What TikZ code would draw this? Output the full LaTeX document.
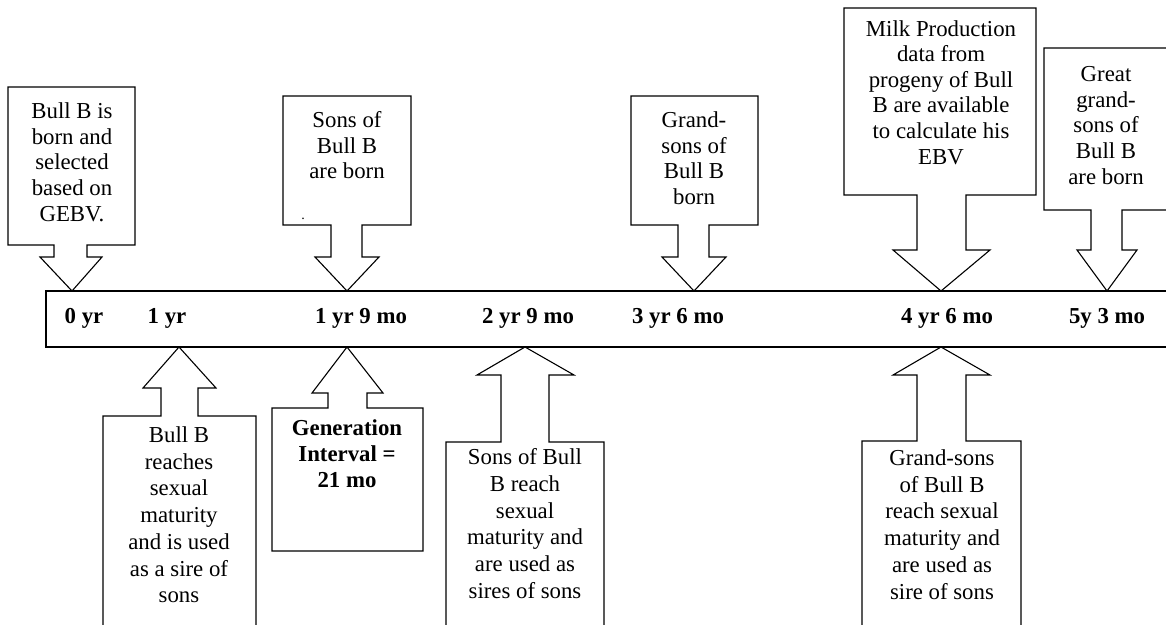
\documentclass[tikz,border=0pt]{standalone}
\usepackage{fontspec}
\setmainfont{Liberation Serif}
\begin{document}
\begin{tikzpicture}[x=1pt,y=-1pt,
  shape line/.style={draw=black,line width=1.1pt,line join=miter},
  toptxt/.style={align=center,inner sep=0pt,anchor=north,font=\fontsize{22.8}{25.6}\selectfont},
  bottxt/.style={align=center,inner sep=0pt,anchor=north,font=\fontsize{22.8}{26.7}\selectfont},
  boldtxt/.style={align=center,inner sep=0pt,anchor=north,font=\bfseries\fontsize{22.8}{26.3}\selectfont},
  barlabel/.style={inner sep=0pt,anchor=base,font=\bfseries\fontsize{22.8}{26}\selectfont}]
\useasboundingbox (0,0) rectangle (1166,624);
\clip (0,0) rectangle (1166,624);
\fill[white] (0,0) rectangle (1166,624);

% timeline bar
\draw[shape line] (1175,291) -- (46,291) -- (46,347) -- (1175,347);

% tip coordinates
\coordinate (t0) at (72,291);
\coordinate (t1) at (347,291);
\coordinate (t2) at (694,291);
\coordinate (t3) at (941,291);
\coordinate (t4) at (1107,291);
\coordinate (b0) at (179,347);
\coordinate (b1) at (347,347);
\coordinate (b2) at (525,347);
\coordinate (b3) at (941,347);

% top callouts (pointing down)
\draw[shape line] (8,87) -- (135,87) -- (135,245) -- (87,245) -- (87,257) -- (102,257) -- (t0) -- (40,257) -- (54,257) -- (54,245) -- (8,245) -- cycle;
\draw[shape line] (283,96) -- (411,96) -- (411,225) -- (362,225) -- (362,257) -- (379,257) -- (t1) -- (315,257) -- (331,257) -- (331,225) -- (283,225) -- cycle;
\draw[shape line] (631,96) -- (758,96) -- (758,225) -- (709,225) -- (709,257) -- (726,257) -- (t2) -- (662,257) -- (678,257) -- (678,225) -- (631,225) -- cycle;
\draw[shape line] (844,8) -- (1036,8) -- (1036,195) -- (966,195) -- (966,250) -- (990,250) -- (t3) -- (893,250) -- (917,250) -- (917,195) -- (844,195) -- cycle;
\draw[shape line] (1175,48) -- (1044,48) -- (1044,210) -- (1091,210) -- (1091,250) -- (1077,250) -- (t4) -- (1137,250) -- (1122,250) -- (1122,210) -- (1175,210);

% bottom callouts (pointing up)
\draw[shape line] (103,630) -- (103,416) -- (161,416) -- (161,388) -- (143,388) -- (b0) -- (216,388) -- (198,388) -- (198,416) -- (256,416) -- (256,630);
\draw[shape line] (272,551) -- (272,408) -- (328,408) -- (328,393) -- (312,393) -- (b1) -- (383,393) -- (367,393) -- (367,408) -- (423,408) -- (423,551) -- cycle;
\draw[shape line] (446,630) -- (446,442) -- (501,442) -- (501,375) -- (477,375) -- (b2) -- (574,375) -- (549,375) -- (549,442) -- (604,442) -- (604,630);
\draw[shape line] (862,630) -- (862,441) -- (917,441) -- (917,375) -- (893,375) -- (b3) -- (990,375) -- (966,375) -- (966,441) -- (1021,441) -- (1021,630);

% top texts
\node[toptxt] (n0) at (72,102.7) {Bull B is\\born and\\selected\\based on\\GEBV.};
\node[toptxt] (n1) at (347,111.5) {Sons of\\Bull B\\are born};
\node[inner sep=0pt,anchor=base,font=\fontsize{14}{16}\selectfont] (dot) at (303,219) {.};
\node[toptxt] (n2) at (694,111.5) {Grand-\\sons of\\Bull B\\born};
\node[toptxt] (n3) at (941,20) {Milk Production\\data from\\progeny of Bull\\B are available\\to calculate his\\EBV};
\node[toptxt] (n4) at (1106,66.5) {Great\\grand-\\sons of\\Bull B\\are born};

% bottom texts
\node[bottxt] (m0) at (179,426.5) {Bull B\\reaches\\sexual\\maturity\\and is used\\as a sire of\\sons};
\node[boldtxt] (m1) at (347,419) {Generation\\Interval =\\21 mo};
\node[bottxt] (m2) at (525,448.5) {Sons of Bull\\B reach\\sexual\\maturity and\\are used as\\sires of sons};
\node[bottxt] (m3) at (942,449.5) {Grand-sons\\of Bull B\\reach sexual\\maturity and\\are used as\\sire of sons};

% bar labels
\node[barlabel] (l0) at (84,323) {0 yr};
\node[barlabel] (l1) at (167,323) {1 yr};
\node[barlabel] (l2) at (361,323) {1 yr 9 mo};
\node[barlabel] (l3) at (528,323) {2 yr 9 mo};
\node[barlabel] (l4) at (678,323) {3 yr 6 mo};
\node[barlabel] (l5) at (947,323) {4 yr 6 mo};
\node[barlabel] (l6) at (1107,323) {5y 3 mo};
\end{tikzpicture}
\end{document}
